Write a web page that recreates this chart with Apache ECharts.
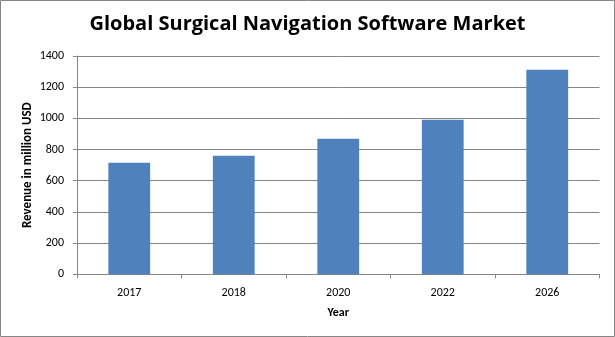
<!DOCTYPE html>
<html>
<head>
<meta charset="utf-8">
<script src="https://cdn.jsdelivr.net/npm/echarts@6/dist/echarts.min.js"></script>
<style>
  html, body { margin: 0; padding: 0; background: #fff; }
  #chart { width: 615px; height: 337px; }
</style>
</head>
<body>
<div id="chart"></div>
<script>
// Revenue by year, million USD
const years = ['2017', '2018', '2020', '2022', '2026'];
const revenue = [715, 760, 869, 991, 1312];
const yTicks = { min: 0, max: 1400, interval: 200 };

const chart = echarts.init(document.getElementById('chart'), null, { renderer: 'canvas' });
const labelFont = 'Carlito, "Open Sans", "Liberation Sans", sans-serif';

chart.setOption({
  animation: false,
  backgroundColor: '#ffffff',
  title: {
    text: 'Global Surgical Navigation Software Market',
    left: 'center',
    top: 9,
    textStyle: { fontFamily: '"Open Sans", "Noto Sans", sans-serif', fontWeight: 'bold', fontSize: 20, color: '#000' }
  },
  graphic: [{
    type: 'rect',
    shape: { x: 0.5, y: 0.5, width: 614, height: 336 },
    style: { fill: 'none', stroke: '#868686', lineWidth: 1 },
    silent: true
  }],
  grid: { left: 77, right: 15.5, top: 56, bottom: 62.7 },
  xAxis: {
    type: 'category',
    data: years,
    name: 'Year',
    nameLocation: 'middle',
    nameGap: 33,
    nameMoveOverlap: false,
    nameTextStyle: { fontFamily: labelFont, fontWeight: 'bold', fontSize: 12, color: '#000' },
    axisLine: { lineStyle: { color: '#868686', width: 1 } },
    axisTick: { show: true, alignWithLabel: false, length: 4, lineStyle: { color: '#868686' } },
    axisLabel: { fontFamily: labelFont, fontSize: 12, color: '#000', margin: 13 }
  },
  yAxis: {
    type: 'value',
    min: yTicks.min,
    max: yTicks.max,
    interval: yTicks.interval,
    name: 'Revenue in million USD',
    nameLocation: 'middle',
    nameRotate: 90,
    nameGap: 43,
    nameMoveOverlap: false,
    nameTextStyle: { fontFamily: labelFont, fontWeight: 'bold', fontSize: 13, color: '#000' },
    axisLine: { show: true, lineStyle: { color: '#868686', width: 1 } },
    axisTick: { show: true, length: 4, lineStyle: { color: '#868686' } },
    axisLabel: { fontFamily: labelFont, fontSize: 12, color: '#000', margin: 13, formatter: v => String(v) },
    splitLine: { show: true, lineStyle: { color: '#868686', width: 1 } }
  },
  series: [{
    type: 'bar',
    data: revenue,
    barWidth: '40%',
    itemStyle: { color: '#4F81BD' }
  }]
});
</script>
</body>
</html>
